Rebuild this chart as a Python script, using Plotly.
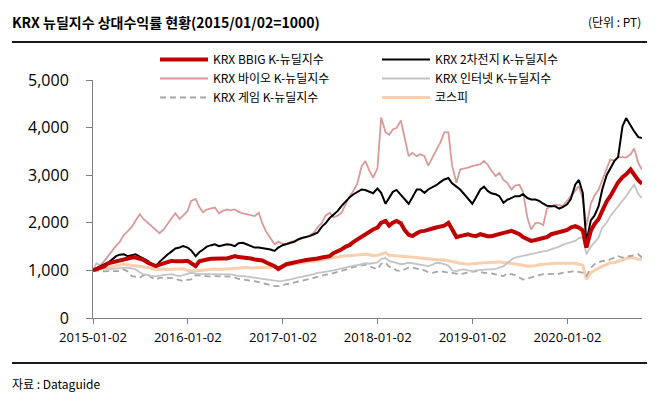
import pandas as pd
import plotly.graph_objects as go

# semi-monthly observation dates (2015-01-02 ... 2020-09-15)
DATES = list(pd.date_range("2015-01-01", periods=140, freq="SMS"))
DATES[0] = pd.Timestamp("2015-01-02")

BBIG = [1000,1030,1070,1090,1150,1170,1200,1220,1230,1260,
        1270,1270,1240,1220,1160,1130,1090,1120,1150,1170,
        1200,1190,1180,1190,1200,1160,1090,1190,1220,1230,
        1245,1240,1245,1250,1250,1270,1300,1280,1270,1270,
        1250,1230,1220,1210,1160,1130,1090,1030,1090,1130,
        1150,1160,1190,1200,1220,1225,1230,1250,1270,1290,
        1300,1360,1400,1440,1500,1530,1600,1650,1720,1760,
        1820,1860,1900,2000,2040,1940,2000,2040,1990,1850,
        1750,1720,1780,1820,1830,1860,1880,1900,1920,1940,
        2000,1860,1700,1720,1740,1760,1730,1720,1760,1730,
        1720,1720,1740,1760,1790,1800,1830,1800,1760,1700,
        1660,1620,1640,1650,1680,1700,1760,1780,1800,1830,
        1850,1900,1930,1900,1840,1480,1830,1970,2080,2250,
        2450,2560,2720,2850,2960,3020,3120,3000,2890,2820]

BATTERY = [1000,1040,1100,1130,1160,1230,1300,1330,1340,1300,
           1320,1340,1290,1250,1200,1140,1090,1180,1270,1330,
           1400,1460,1480,1510,1480,1420,1300,1380,1440,1500,
           1530,1550,1510,1530,1550,1540,1510,1570,1580,1550,
           1510,1480,1480,1470,1455,1440,1410,1480,1530,1560,
           1580,1600,1650,1680,1700,1720,1760,1790,1920,1990,
           2100,2160,2250,2350,2450,2530,2600,2650,2700,2690,
           2650,2620,2720,2630,2400,2520,2650,2690,2580,2480,
           2400,2530,2700,2700,2630,2700,2750,2790,2860,2910,
           2940,2830,2760,2700,2600,2510,2400,2530,2700,2760,
           2670,2620,2600,2560,2420,2480,2520,2560,2560,2600,
           2520,2490,2490,2460,2400,2360,2350,2350,2300,2330,
           2390,2500,2800,2900,2630,1600,2050,2150,2350,2700,
           3000,3150,3300,3380,4030,4200,4030,3920,3800,3780]

BIO = [1000,1050,1120,1200,1300,1420,1520,1600,1750,1820,
       1920,2050,2180,2080,2000,1940,1850,1780,1860,1980,
       2100,2200,2080,2150,2250,2460,2500,2330,2220,2280,
       2300,2320,2200,2250,2280,2260,2280,2230,2200,2180,
       2150,2140,2210,1980,1790,1690,1550,1600,1560,1550,
       1600,1620,1640,1660,1700,1740,1790,1900,2000,2150,
       2210,2120,2150,2210,2400,2550,2680,2820,3190,3300,
       3090,2950,3150,4210,3900,3850,3960,3990,4150,3800,
       3400,3470,3400,3440,3400,3200,3380,3500,3700,3900,
       3900,3200,2840,3120,3150,3160,3190,3210,3230,3300,
       3220,3100,2980,3050,2900,2840,2700,2780,2800,2650,
       2100,1860,2000,2000,1950,2300,2350,2380,2370,2350,
       2460,2550,2680,2770,2500,1930,2400,2570,2700,2900,
       3120,3330,3300,3380,3380,3370,3440,3560,3250,3120]

INTERNET = [1000,1150,1100,1060,1020,1030,1040,1035,1050,1060,
            1040,1020,960,920,900,880,880,895,900,910,
            920,900,880,900,930,950,930,920,920,920,
            920,920,920,920,920,915,900,880,880,870,
            860,845,830,820,805,800,790,775,780,790,
            810,830,850,870,880,900,920,950,960,970,
            985,1000,1020,1040,1060,1080,1100,1110,1130,1150,
            1140,1150,1170,1240,1260,1200,1180,1150,1130,1140,
            1160,1150,1130,1120,1110,1090,1120,1160,1150,1130,
            1100,1000,985,1010,1020,1000,985,1000,1010,1020,
            1020,1020,1030,1060,1090,1150,1230,1270,1290,1300,
            1320,1350,1370,1390,1400,1410,1440,1480,1500,1540,
            1560,1590,1620,1680,1700,1340,1500,1580,1690,1900,
            2000,2140,2250,2350,2450,2560,2700,2800,2600,2520]

GAME = [1000,990,985,980,985,990,985,985,1020,980,
        880,860,845,900,920,850,810,845,850,845,
        840,820,800,775,800,810,900,890,880,880,
        870,880,880,880,880,870,850,820,810,790,
        780,775,750,730,705,690,670,670,690,705,
        720,740,760,775,800,820,845,870,890,910,
        920,940,960,985,1010,1040,1070,1090,1100,1120,
        1090,1060,1020,1140,1160,1080,1060,1000,985,1020,
        1060,1060,1040,1020,1000,960,950,970,985,970,
        950,950,930,920,940,950,970,985,970,950,
        950,930,920,900,880,940,920,900,850,810,
        830,860,880,900,920,920,920,920,930,950,
        960,975,985,970,950,880,1050,1130,1170,1200,
        1200,1230,1260,1300,1270,1290,1300,1320,1340,1270]

KOSPI = [1000,1010,1030,1050,1060,1080,1100,1120,1130,1120,
         1110,1100,1080,1070,1060,1040,1020,1020,1030,1020,
         1020,1030,1030,1035,1000,990,985,1000,1010,1020,
         1020,1030,1020,1025,1030,1035,1040,1050,1060,1060,
         1050,1060,1060,1060,1060,1060,1060,1070,1090,1110,
         1130,1140,1150,1160,1170,1180,1190,1200,1220,1240,
         1260,1270,1280,1300,1310,1310,1320,1330,1340,1340,
         1330,1310,1320,1350,1370,1320,1315,1310,1300,1300,
         1290,1280,1270,1260,1250,1240,1230,1230,1220,1220,
         1200,1180,1160,1150,1140,1130,1140,1150,1160,1160,
         1160,1160,1170,1180,1160,1160,1150,1130,1130,1110,
         1090,1090,1100,1120,1130,1140,1150,1150,1150,1150,
         1160,1160,1150,1130,1110,810,950,1000,1050,1090,
         1120,1160,1160,1190,1230,1250,1270,1260,1230,1240]

X_TICKS = ["2015-01-02", "2016-01-02", "2017-01-02", "2018-01-02", "2019-01-02", "2020-01-02"]
Y_TICKS = [0, 1000, 2000, 3000, 4000, 5000]

FONT = "Open Sans, Noto Sans CJK KR, sans-serif"
KFONT = "Noto Sans CJK KR, Open Sans, sans-serif"

# (name, values, color, width, dash, legend rank) -- drawn in this order
SERIES = [
    ("코스피", KOSPI, "#f9cfae", 3, "solid", 6),
    ("KRX 게임 K-뉴딜지수", GAME, "#a6a6a6", 1.8, "6px,4px", 5),
    ("KRX 인터넷 K-뉴딜지수", INTERNET, "#c4c4c4", 1.8, "solid", 4),
    ("KRX 바이오 K-뉴딜지수", BIO, "#d99a98", 1.8, "solid", 3),
    ("KRX 2차전지 K-뉴딜지수", BATTERY, "#000000", 2, "solid", 2),
    ("KRX BBIG K-뉴딜지수", BBIG, "#c00000", 4, "solid", 1),
]

fig = go.Figure()
for name, vals, color, width, dash, rank in SERIES:
    fig.add_trace(go.Scatter(
        x=DATES, y=vals, name=name, mode="lines",
        line=dict(color=color, width=width, dash=dash),
        legendrank=rank,
    ))

L, R, T, B = 93, 18, 80, 78
W, H = 660, 396
PW, PH = W - L - R, H - T - B

def px(xp):
    return (xp - L) / PW

def py(yp):
    return (H - B - yp) / PH

fig.update_layout(
    width=W, height=H,
    margin=dict(l=L, r=R, t=T, b=B),
    paper_bgcolor="white", plot_bgcolor="white",
    font=dict(family=FONT, color="#000000"),
    showlegend=True,
    legend=dict(
        orientation="h", x=px(155), y=py(45), xanchor="left", yanchor="top",
        entrywidth=159, entrywidthmode="pixels",
        font=dict(family=KFONT, size=12, color="#000000"),
        bgcolor="rgba(0,0,0,0)", itemwidth=48, traceorder="normal",
    ),
    xaxis=dict(
        type="date", range=[DATES[0], DATES[-1]],
        tickvals=X_TICKS, ticktext=X_TICKS,
        showgrid=False, zeroline=False,
        showline=True, linecolor="#808080", linewidth=1,
        ticks="outside", ticklen=5, tickcolor="#808080",
        ticklabelstandoff=2,
        tickfont=dict(size=13, family=FONT, color="#000000"),
    ),
    yaxis=dict(
        range=[0, 5000], tickvals=Y_TICKS, tickformat=",",
        showgrid=False, zeroline=False,
        showline=True, linecolor="#808080", linewidth=1,
        ticks="outside", ticklen=6, tickcolor="#808080",
        ticklabelstandoff=14,
        tickfont=dict(size=16, family=FONT, color="#000000"),
    ),
)

fig.add_shape(type="line", xref="paper", yref="paper",
              x0=px(12), x1=px(647), y0=py(42), y1=py(42),
              line=dict(color="#1a1a1a", width=2))
fig.add_shape(type="line", xref="paper", yref="paper",
              x0=px(12), x1=px(647), y0=py(363), y1=py(363),
              line=dict(color="#1a1a1a", width=2))

fig.add_annotation(xref="paper", yref="paper", x=px(10), y=py(22),
                   xanchor="left", yanchor="middle", showarrow=False,
                   text="<b>KRX 뉴딜지수 상대수익률 현황(2015/01/02=1000)</b>",
                   font=dict(family=KFONT, size=14, color="#000000"))
fig.add_annotation(xref="paper", yref="paper", x=px(643), y=py(22),
                   xanchor="right", yanchor="middle", showarrow=False,
                   text="(단위 : PT)",
                   font=dict(family=KFONT, size=12, color="#000000"))
fig.add_annotation(xref="paper", yref="paper", x=px(10), y=py(383),
                   xanchor="left", yanchor="middle", showarrow=False,
                   text="자료 : Dataguide",
                   font=dict(family=KFONT, size=12, color="#000000"))

fig.write_html(
    "out.html",
    config={"displayModeBar": False},
    post_script="document.body.style.margin='0';document.body.style.padding='0';",
)
